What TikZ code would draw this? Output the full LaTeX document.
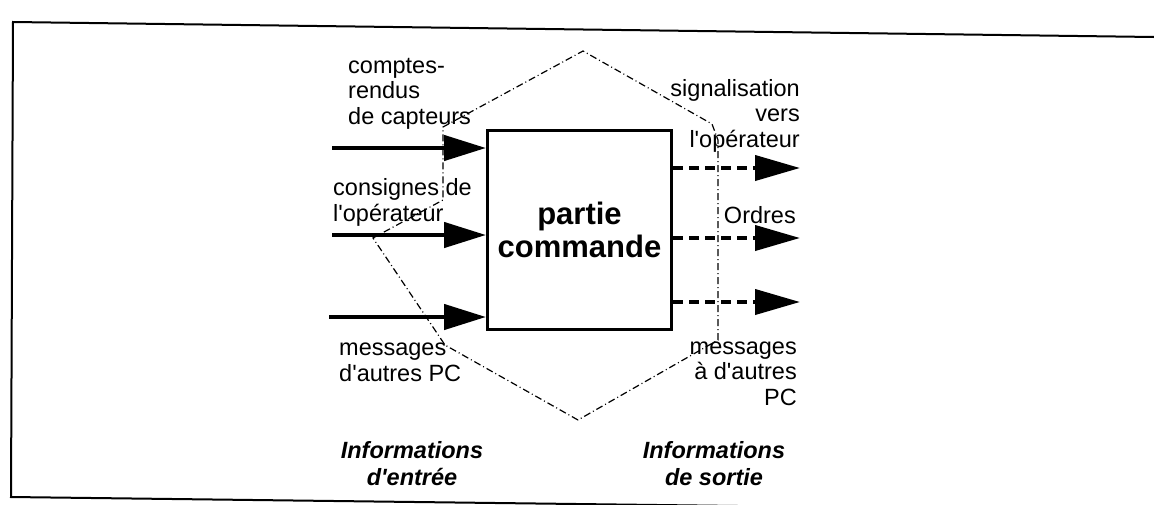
\documentclass[tikz,border=0pt]{standalone}
\usepackage{fontspec}
\setmainfont{Liberation Sans}
\usetikzlibrary{arrows.meta}

\begin{document}
\begin{tikzpicture}[x=1pt,y=-1pt,line join=miter]
    \tikzstyle{lbl}=[inner sep=0pt, font=\fontsize{23.5}{25.5}\selectfont]
    \tikzstyle{ttl}=[inner sep=0pt, align=center, font=\fontsize{23.5}{27}\selectfont\bfseries\itshape]
    \tikzstyle{pcbox}=[draw, line width=3pt, minimum width=184pt, minimum height=199pt, inner sep=0pt, align=center, font=\fontsize{31}{33}\selectfont\bfseries]
    \tikzstyle{inarrow}=[line width=4.5pt, -{Triangle[length=42pt,width=25pt]}]
    \tikzstyle{outarrow}=[line width=4pt, dash pattern=on 10pt off 6pt, -{Triangle[length=45pt,width=25pt]}]
    \tikzstyle{limit}=[line width=1.2pt, dash pattern=on 7pt off 3pt on 1pt off 3pt]
    \tikzstyle{frame}=[line width=2pt]

    \useasboundingbox (0,0) rectangle (1154,504);
    \clip (0,0) rectangle (1154,504);

    % cadre
    \draw[frame] (1154,37) -- (13,22) -- (11,497) -- (900,508);

    % partie commande
    \node[pcbox] (pc) at (579.5,230) {partie\\commande};

    % entrees / sorties
    \coordinate (in1) at (332,148);
    \coordinate (in2) at (332,235);
    \coordinate (in3) at (329,317);
    \coordinate (out1) at (800,168);
    \coordinate (out2) at (800,238);
    \coordinate (out3) at (800,302);
    \path
     (in1) edge[inarrow] (pc.west |- in1)
     (in2) edge[inarrow] (pc.west |- in2)
     (in3) edge[inarrow] (pc.west |- in3)
     (pc.east |- out1) edge[outarrow] (out1)
     (pc.east |- out2) edge[outarrow] (out2)
     (pc.east |- out3) edge[outarrow] (out3)
     ;

    % limites des informations
    \draw[limit] (578,420) -- (445,345) -- (373,238) -- (443,200) -- (443,127) -- (583,51)
                 -- (712,124) -- (718,140) -- (718,340) -- cycle;

    % textes (ancre sur la derniere ligne)
    \node[lbl, anchor=base west, align=left] (cptr) at (348,124) {comptes-\\rendus\\de capteurs};
    \node[lbl, anchor=base west, align=left] (cons) at (333,221) {consignes de\\l\textquotesingle op\'erateur};
    \node[lbl, anchor=base west, align=left] (msgin) at (339,381) {messages\\d\textquotesingle autres PC};
    \node[lbl, anchor=base east, align=right] (sig) at (800,147) {signalisation\\vers\hspace{8pt}\\l\textquotesingle op\'erateur};
    \node[lbl, anchor=base east] (ord) at (796,223) {Ordres};
    \node[lbl, anchor=base east, align=right] (msgout) at (797,405) {messages\\\`a d\textquotesingle autres\\PC};

    \node[ttl, anchor=base] (entree) at (412,485) {Informations\\d\textquotesingle entr\'ee};
    \node[ttl, anchor=base] (sortie) at (714,485) {Informations\\de sortie};
  \end{tikzpicture}
\end{document}
